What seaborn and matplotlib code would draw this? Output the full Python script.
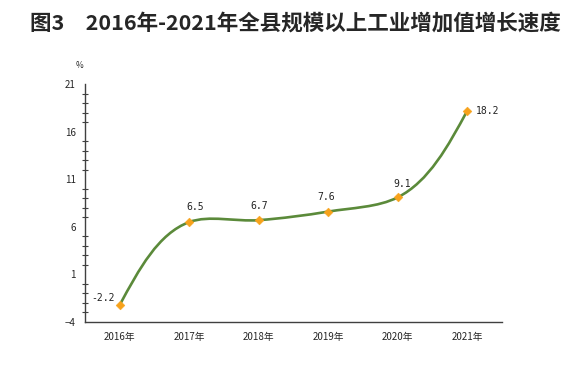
import numpy as np
import pandas as pd
import matplotlib
matplotlib.use('Agg')
import matplotlib.pyplot as plt
from matplotlib.path import Path
from matplotlib.patches import PathPatch
from matplotlib.ticker import MultipleLocator, FixedLocator, NullFormatter
import seaborn as sns

years = ['2016年', '2017年', '2018年', '2019年', '2020年', '2021年']
growth = [-2.2, 6.5, 6.7, 7.6, 9.1, 18.2]
title = '图3　2016年-2021年全县规模以上工业增加值增长速度'

sns.set_style('white')
plt.rcParams['font.family'] = ['Noto Sans CJK SC', 'DejaVu Sans']

df = pd.DataFrame({'x': np.arange(len(years)), 'y': growth})

fig = plt.figure(figsize=(5.71, 3.73), dpi=100)
ax = fig.add_axes([0.1489, 0.1367, 0.7303, 0.638])
ax.set_xlim(-0.5, len(years) - 0.5)
ax.set_ylim(-4, 21)

# smooth line: chord-length Catmull-Rom in screen space, drawn as Bezier path
bbox = ax.get_window_extent()
sx = bbox.width / 6.0
sy = bbox.height / 25.0
P = df[['x', 'y']].to_numpy(dtype=float) * [sx, sy]
n = len(P)
d = np.linalg.norm(np.diff(P, axis=0), axis=1)
V = np.zeros_like(P)
for i in range(1, n - 1):
    V[i] = (d[i] * (P[i] - P[i - 1]) / d[i - 1] + d[i - 1] * (P[i + 1] - P[i]) / d[i]) / (d[i - 1] + d[i])
V[0] = 1.5 * (P[1] - P[0]) / d[0] - 0.5 * V[1]
V[-1] = 1.5 * (P[-1] - P[-2]) / d[-1] - 0.5 * V[-2]
verts = [P[0]]
codes = [Path.MOVETO]
for i in range(n - 1):
    verts += [P[i] + V[i] * d[i] / 3, P[i + 1] - V[i + 1] * d[i] / 3, P[i + 1]]
    codes += [Path.CURVE4] * 3
verts = np.array(verts) / [sx, sy]
ax.add_patch(PathPatch(Path(verts, codes), fill=False, edgecolor='#5b8a3a', lw=1.9, zorder=2))

sns.scatterplot(data=df, x='x', y='y', ax=ax, marker='D', s=20, color='#f7a21b',
                edgecolor='#f7a21b', zorder=3, legend=False)

# label offsets in points
label_off = [(-12, 5), (4, 11), (0, 10.5), (-1.5, 10.5), (3, 9.5), (15, 0)]
for i, v in enumerate(growth):
    dx, dy = label_off[i]
    ax.annotate(f'{v:.1f}', (i, v), xytext=(dx, dy), textcoords='offset points',
                ha='center', va='center', fontsize=7, color='#222222',
                family='DejaVu Sans Mono')

ax.yaxis.set_major_locator(FixedLocator([-4, 1, 6, 11, 16, 21]))
ax.yaxis.set_minor_locator(MultipleLocator(1))
ax.xaxis.set_major_locator(FixedLocator(np.arange(len(years)) + 0.5))
ax.xaxis.set_major_formatter(NullFormatter())
ax.xaxis.set_minor_locator(FixedLocator(np.arange(len(years))))
ax.set_xticklabels(years, minor=True)
ax.tick_params(axis='x', which='major', direction='in', length=4, width=0.8, color='#404040')
ax.tick_params(axis='x', which='minor', length=0, labelsize=7, pad=7)
ax.tick_params(axis='y', which='major', direction='inout', length=7, width=0.8,
               color='#404040', labelsize=7, pad=3)
ax.tick_params(axis='y', which='minor', direction='inout', length=5, width=0.8, color='#404040', left=True)

for s in ['top', 'right']:
    ax.spines[s].set_visible(False)
for s in ['left', 'bottom']:
    ax.spines[s].set_color('#404040')
    ax.spines[s].set_linewidth(1.0)
ax.set_xlabel('')
ax.set_ylabel('')

fig.text(79 / 571, 1 - 65 / 373, '%', fontsize=6, ha='center', va='center')
fig.text(295 / 571, 1 - 23 / 373, title, fontsize=15.5, fontweight='bold', ha='center', va='center')

fig.savefig('out.png', dpi=100)
